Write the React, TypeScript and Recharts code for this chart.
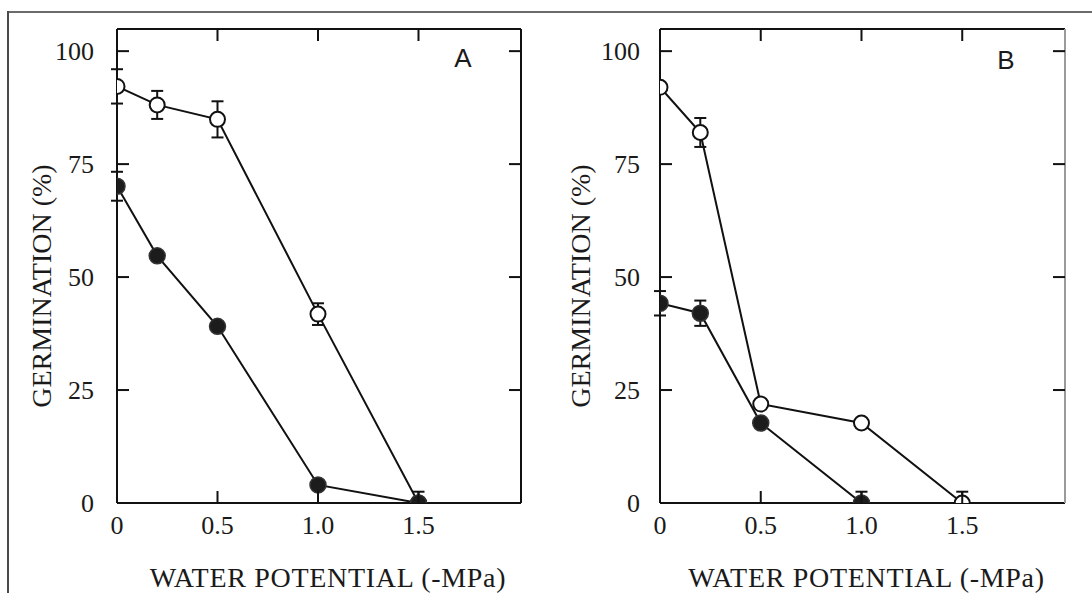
import React from 'react';
import { LineChart, Line, XAxis, YAxis, ErrorBar } from 'recharts';

// water potential (-MPa)
const potential = [0, 0.2, 0.5, 1.0, 1.5];

// Panel A
const aOpen = [92.2, 88.1, 84.9, 41.8, 0];
const aOpenErr = [3.8, 3.1, 4.0, 2.4, 0];
const aFilled = [70.1, 54.7, 39.1, 4.0, 0];
const aFilledErr = [3.2, 0, 0, 0, [0, 2.5]];

// Panel B
const bOpen = [92.0, 82.0, 21.9, 17.7, 0];
const bOpenErr = [0, 3.2, 0, 0, [0, 2.5]];
const bFilled = [44.2, 42.0, 17.7, 0, null];
const bFilledErr = [2.7, 2.8, 0, [0, 2.5], null];

const xTicks = [0, 0.5, 1.0, 1.5];
const xTopTicks = [0.5, 1.0, 1.5];
const yTicks = [0, 25, 50, 75, 100];
const yRightTicks = [25, 50, 75, 100];

const W = 546;
const H = 593;
const TICK_LEN = 12;
const SERIF = 'Liberation Serif, Times New Roman, serif';
const INK = '#111';

const buildRows = (open: any[], openErr: any[], filled: any[], filledErr: any[]) =>
  potential.map((x, i) => ({
    x,
    open: open[i],
    openErr: openErr[i],
    filled: filled[i],
    filledErr: filledErr[i],
  }));

const dataA = buildRows(aOpen, aOpenErr, aFilled, aFilledErr);
const dataB = buildRows(bOpen, bOpenErr, bFilled, bFilledErr);

const fmtX = (v: number) => (v === 0 ? '0' : v.toFixed(1));

// tick with the mark pointing into the plot and the label outside
const InTick = (props: any) => {
  const { x, y, payload, side, gap, label } = props;
  const v = payload?.value;
  const text = label ? label(v) : null;
  const lineProps = { stroke: INK, strokeWidth: 2 };
  const textProps = { fill: '#1a1a1a', fontSize: 26, fontFamily: SERIF };
  if (side === 'bottom') {
    return (
      <g>
        {v !== 0 && <line x1={x} x2={x} y1={y - gap} y2={y - gap - TICK_LEN} {...lineProps} />}
        {text !== null && (
          <text x={x} y={y} dy="0.71em" textAnchor="middle" {...textProps}>{text}</text>
        )}
      </g>
    );
  }
  if (side === 'left') {
    return (
      <g>
        {v !== 0 && <line x1={x + gap} x2={x + gap + TICK_LEN} y1={y} y2={y} {...lineProps} />}
        {text !== null && (
          <text x={x} y={y} dy="0.34em" textAnchor="end" {...textProps}>{text}</text>
        )}
      </g>
    );
  }
  if (side === 'top') {
    return <line x1={x} x2={x} y1={y + gap} y2={y + gap + TICK_LEN} {...lineProps} />;
  }
  return <line x1={x - gap} x2={x - gap - TICK_LEN} y1={y} y2={y} {...lineProps} />;
};

interface PanelProps {
  data: any[];
  left: number;
  plotLeft: number;
  plotRight: number;
  yTickGap: number;
  yLabelX: number;
  xLabelDx: number;
  letter: string;
  letterX: number;
  letterY: number;
  rightColor: string;
}

const Panel: React.FC<PanelProps> = ({
  data, left, plotLeft, plotRight, yTickGap, yLabelX, xLabelDx, letter, letterX, letterY, rightColor,
}) => {
  return (
    <div style={{ position: 'absolute', left, top: 0, width: W, height: H }}>
      <LineChart width={W} height={H} data={data} margin={{ top: 17, right: 0, bottom: 0, left: 0 }}>
        <XAxis
          dataKey="x"
          type="number"
          domain={[0, 2.01]}
          ticks={xTicks}
          allowDataOverflow
          height={90}
          tickSize={0}
          tickMargin={13}
          tickLine={false}
          tick={(p: any) => <InTick {...p} side="bottom" gap={13} label={fmtX} />}
          axisLine={{ stroke: INK, strokeWidth: 2 }}
          label={{
            value: 'WATER POTENTIAL (-MPa)',
            position: 'insideBottom',
            offset: 6,
            dx: xLabelDx,
            style: { fill: '#1a1a1a', fontSize: 28, fontFamily: SERIF, letterSpacing: 0.7 },
          }}
        />
        <XAxis
          xAxisId="top"
          dataKey="x"
          orientation="top"
          type="number"
          domain={[0, 2.01]}
          ticks={xTopTicks}
          allowDataOverflow
          height={12}
          tickSize={0}
          tickMargin={0}
          tickLine={false}
          tick={(p: any) => <InTick {...p} side="top" gap={0} />}
          axisLine={{ stroke: INK, strokeWidth: 2 }}
        />
        <YAxis
          type="number"
          domain={[0, 104.9]}
          ticks={yTicks}
          allowDataOverflow
          width={plotLeft}
          tickSize={0}
          tickMargin={yTickGap}
          tickLine={false}
          tick={(p: any) => <InTick {...p} side="left" gap={yTickGap} label={(v: number) => String(v)} />}
          axisLine={{ stroke: INK, strokeWidth: 2 }}
          label={{
            value: 'GERMINATION (%)',
            angle: -90,
            position: 'insideLeft',
            offset: yLabelX,
            dy: 20,
            style: { textAnchor: 'middle', fill: '#1a1a1a', fontSize: 28, fontFamily: SERIF },
          }}
        />
        <YAxis
          yAxisId="right"
          orientation="right"
          type="number"
          domain={[0, 104.9]}
          ticks={yRightTicks}
          allowDataOverflow
          width={W - plotRight}
          tickSize={0}
          tickMargin={0}
          tickLine={false}
          tick={(p: any) => <InTick {...p} side="right" gap={0} />}
          axisLine={{ stroke: rightColor, strokeWidth: 2 }}
        />
        {/* invisible series so the top and right frame axes get their scales */}
        <Line
          xAxisId="top"
          yAxisId="right"
          dataKey="open"
          stroke="none"
          dot={false}
          activeDot={false}
          isAnimationActive={false}
        />
        <Line
          dataKey="open"
          stroke={INK}
          strokeWidth={2}
          isAnimationActive={false}
          dot={{ r: 7.5, fill: '#fff', stroke: INK, strokeWidth: 2 }}
          activeDot={false}
        >
          <ErrorBar dataKey="openErr" direction="y" width={6} stroke={INK} strokeWidth={2} />
        </Line>
        <Line
          dataKey="filled"
          stroke={INK}
          strokeWidth={2}
          isAnimationActive={false}
          dot={{ r: 8, fill: '#1c1c1c', stroke: '#333', strokeWidth: 1.5 }}
          activeDot={false}
        >
          <ErrorBar dataKey="filledErr" direction="y" width={6} stroke={INK} strokeWidth={2} />
        </Line>
      </LineChart>
      <div
        style={{
          position: 'absolute',
          left: letterX - left - 12,
          top: letterY - 17,
          width: 24,
          textAlign: 'center',
          fontFamily: 'Liberation Sans, Arial, sans-serif',
          fontSize: 26,
          lineHeight: '34px',
          color: '#1a1a1a',
        }}
      >
        {letter}
      </div>
    </div>
  );
};

export default function App() {
  return (
    <div style={{ position: 'absolute', left: 0, top: 0, width: 1092, height: 593, background: '#fff', overflow: 'hidden' }}>
      <div style={{ position: 'absolute', left: 8, top: 11, width: 1084, height: 2, background: '#6b6b6b' }} />
      <div style={{ position: 'absolute', left: 7, top: 11, width: 2, height: 582, background: '#4a4a4a' }} />
      <Panel
        data={dataA}
        left={0}
        plotLeft={117}
        plotRight={521}
        yTickGap={23}
        yLabelX={41}
        xLabelDx={9}
        letter="A"
        letterX={463}
        letterY={58}
        rightColor={INK}
      />
      <Panel
        data={dataB}
        left={546}
        plotLeft={114}
        plotRight={519}
        yTickGap={20}
        yLabelX={34}
        xLabelDx={4}
        letter="B"
        letterX={1006}
        letterY={60}
        rightColor="#9a9a9a"
      />
    </div>
  );
}
